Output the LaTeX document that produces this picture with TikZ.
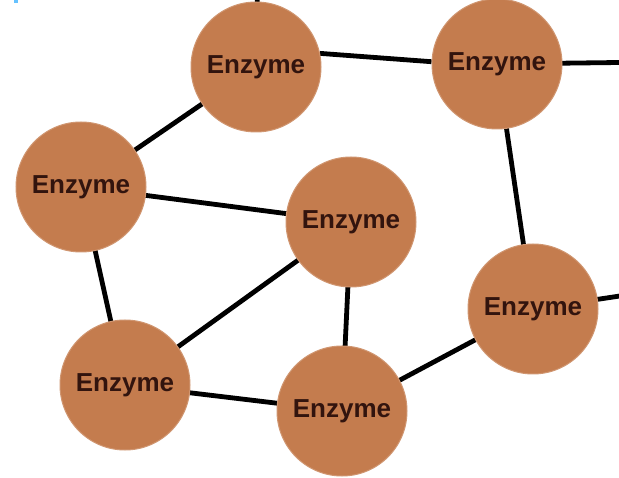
\documentclass[tikz,border=0pt]{standalone}
\usepackage{fontspec}
\setmainfont{Liberation Sans}
\usetikzlibrary{backgrounds}
\definecolor{enzfill}{RGB}{196,124,78}
\definecolor{enztext}{RGB}{50,20,14}
\begin{document}
\begin{tikzpicture}[x=1pt,y=-1pt,
  enz/.style={circle,fill=enzfill,draw=enzfill!80!white,line width=1pt,
    minimum size=130pt,inner sep=0pt,text=enztext,
    font=\fontsize{26}{26}\selectfont\bfseries},
  link/.style={line width=4.8pt,black}]
\useasboundingbox (0,0) rectangle (619,478);
\clip (0,0) rectangle (619,478);
% enzyme nodes
\node[enz] (e1) at (256,67) {Enzyme};
\node[enz] (e2) at (497,64) {Enzyme};
\node[enz] (e3) at (81,187) {Enzyme};
\node[enz] (e4) at (351,222) {Enzyme};
\node[enz] (e5) at (533,309) {Enzyme};
\node[enz] (e6) at (125,385) {Enzyme};
\node[enz] (e7) at (342,411) {Enzyme};
% loose ends leaving the frame
\coordinate (o1) at (258,-40);
\coordinate (o2) at (660,62);
\coordinate (o5) at (660,290);
% connections, drawn beneath the circles
\begin{scope}[on background layer]
\clip (0,0) rectangle (619,478);
\draw[link] (e1.center) -- (e3.center);
\draw[link] (e1.12) -- (e2.178);
\draw[link] (e1.center) -- (o1);
\draw[link] (e2.center) -- (o2);
\draw[link] (e2.center) -- (e5.center);
\draw[link] (e5.center) -- (o5);
\draw[link] (e3.center) -- (e4.center);
\draw[link] (e3.center) -- (e6.center);
\draw[link] (e4.center) -- (e6.center);
\draw[link] (e4.center) -- (e7.center);
\draw[link] (e6.center) -- (e7.center);
\draw[link] (e7.center) -- (e5.center);
\end{scope}
% small blue mark in the corner
\fill[blue!40!cyan!60] (14,0) rectangle (18,3);
\end{tikzpicture}
\end{document}
